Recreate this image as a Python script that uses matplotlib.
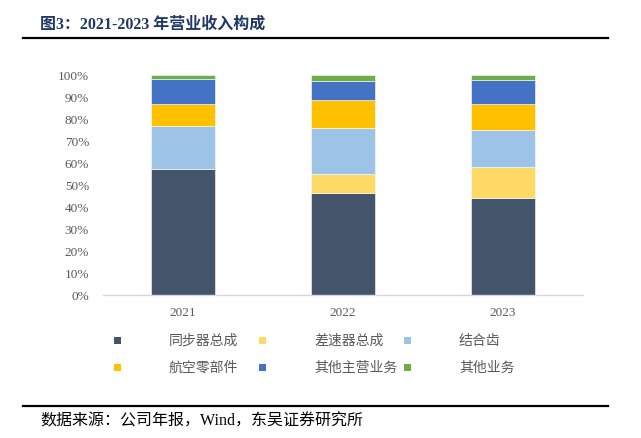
import matplotlib
matplotlib.use("Agg")
import matplotlib.pyplot as plt
from matplotlib.patches import Rectangle
from matplotlib.ticker import PercentFormatter
import numpy as np

years = ["2021", "2022", "2023"]
series_names = ["同步器总成", "差速器总成", "结合齿", "航空零部件", "其他主营业务", "其他业务"]
tongbuqi = [57.3, 46.4, 44.2]
chasuqi = [0.0, 8.5, 14.1]
jiehechi = [19.7, 20.9, 16.9]
hangkong = [9.6, 12.9, 11.7]
qita_zhuying = [11.8, 8.8, 11.0]
qita = [1.6, 2.5, 2.1]
colors = ["#44546A", "#FFD966", "#9DC3E6", "#FFC000", "#4472C4", "#70AD47"]
yticks = [0, 10, 20, 30, 40, 50, 60, 70, 80, 90, 100]

W, H = 641, 439
fig = plt.figure(figsize=(W / 100, H / 100), dpi=100)
ax = fig.add_axes([103 / W, 1 - 296 / H, 480 / W, 220 / H])

serif = ["Liberation Serif", "Noto Sans CJK SC"]
cjk = ["Noto Sans CJK SC", "DejaVu Sans"]

data = [tongbuqi, chasuqi, jiehechi, hangkong, qita_zhuying, qita]
x = np.arange(len(years))
bottom = np.zeros(len(years))
for vals, c in zip(data, colors):
    v = np.array(vals) / 100.0
    ax.bar(x, v, width=0.4, bottom=bottom, color=c, edgecolor="white", linewidth=0.4)
    bottom += v

ax.set_xlim(-0.5, 2.5)
ax.set_ylim(0, 1.0)
ax.set_yticks(np.array(yticks) / 100)
ax.yaxis.set_major_formatter(PercentFormatter(1.0, decimals=0))
ax.set_xticks(x)
ax.set_xticklabels(years)
for lab in ax.get_xticklabels() + ax.get_yticklabels():
    lab.set_family("Liberation Serif")
    lab.set_fontsize(9.5)
    lab.set_color("#595959")
ax.tick_params(axis="both", length=0)
ax.tick_params(axis="y", pad=10)
ax.tick_params(axis="x", pad=8)
for s in ["top", "right", "left"]:
    ax.spines[s].set_visible(False)
ax.spines["bottom"].set_color("#D9D9D9")
ax.spines["bottom"].set_linewidth(1.0)

# Title and lines
fig.text(40 / W, 1 - 25 / H, "图3：2021-2023 年营业收入构成", family=serif, fontsize=11.5,
         fontweight="bold", color="#1F3864", va="center", ha="left")
fig.add_artist(plt.Line2D([23 / W, 608 / W], [1 - 39 / H, 1 - 39 / H], color="black", lw=1.6))
fig.add_artist(plt.Line2D([23 / W, 608 / W], [1 - 407 / H, 1 - 407 / H], color="black", lw=1.6))
fig.text(40 / W, 1 - 422 / H, "数据来源：公司年报，Wind，东吴证券研究所", family=serif, fontsize=11.5,
         color="black", va="center", ha="left")

# Legend (manual, Excel-like layout)
marker_x = [117, 262, 407.5]
text_x = [169, 314, 459]
rows_y = [341, 368]
for i, (name, c) in enumerate(zip(series_names, colors)):
    r, col = divmod(i, 3)
    mx, my = marker_x[col], rows_y[r]
    fig.add_artist(Rectangle(((mx - 3.5) / W, 1 - (my + 3.5) / H), 7 / W, 7 / H,
                             transform=fig.transFigure, color=c, lw=0))
    fig.text(text_x[col] / W, 1 - my / H, name, family=cjk, fontsize=10,
             color="#595959", va="center", ha="left")

fig.savefig("out.png", dpi=100)
